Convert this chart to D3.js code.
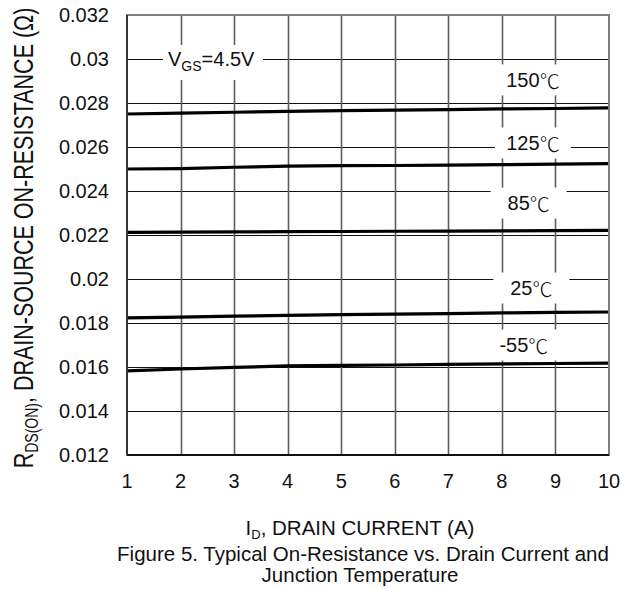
<!DOCTYPE html>
<html>
<head>
<meta charset="utf-8">
<script src="https://cdn.jsdelivr.net/npm/d3@7"></script>
<style>
  body { margin: 0; background: #fff; }
  text { font-family: "Liberation Sans", Arial, sans-serif; fill: #111; }
  .cjk { font-family: "Noto Sans CJK SC", sans-serif; font-weight: 300; }
</style>
</head>
<body>
<div class="chart"></div>
<script>
const width = 624
const height = 589
const margin = ({top: 15, right: 15, bottom: 134, left: 127})

// drain current (A)
const current = [1, 2, 3, 4, 5, 6, 7, 8, 9, 10]
// on-resistance (ohm) per junction temperature
const r150 = [0.0275, 0.02754, 0.02758, 0.02762, 0.02765, 0.02768, 0.0277, 0.02773, 0.02775, 0.02778]
const r125 = [0.0250, 0.02502, 0.02508, 0.02513, 0.02515, 0.02516, 0.02518, 0.0252, 0.02522, 0.02524]
const r85  = [0.02212, 0.02213, 0.02214, 0.02215, 0.02216, 0.02217, 0.02218, 0.02219, 0.0222, 0.02221]
const r25  = [0.01823, 0.01827, 0.01831, 0.01835, 0.01838, 0.0184, 0.01843, 0.01846, 0.01848, 0.0185]
const rm55 = [0.01582, 0.01591, 0.01598, 0.01605, 0.01607, 0.01609, 0.01612, 0.01614, 0.01616, 0.01618]
const seriesTemps = ['150', '125', '85', '25', '-55']
const seriesValues = [r150, r125, r85, r25, rm55]
// label anchor: [current, resistance]
const labelPos = [[8.58, 0.02905], [8.58, 0.02618], [8.5, 0.02345], [8.55, 0.01959], [8.41, 0.0170]]

const xTicks = [1, 2, 3, 4, 5, 6, 7, 8, 9, 10]
const yTicks = [0.012, 0.014, 0.016, 0.018, 0.02, 0.022, 0.024, 0.026, 0.028, 0.03, 0.032]

const svg = d3.select('.chart').append('svg')
    .attr('width', width)
    .attr('height', height)

const x = d3.scaleLinear().domain([1, 10]).range([margin.left, width - margin.right])
const y = d3.scaleLinear().domain([0.012, 0.032]).range([height - margin.bottom, margin.top])

// grid
svg.append('g')
    .selectAll('line')
    .data(yTicks.slice(1, -1))
    .join('line')
    .attr('x1', x(1)).attr('x2', x(10))
    .attr('y1', d => Math.round(y(d)) + 0.5).attr('y2', d => Math.round(y(d)) + 0.5)
    .attr('stroke', '#111').attr('stroke-width', 1)

svg.append('g')
    .selectAll('line')
    .data(xTicks.slice(1, -1))
    .join('line')
    .attr('x1', d => Math.round(x(d)) + 0.5).attr('x2', d => Math.round(x(d)) + 0.5)
    .attr('y1', y(0.032)).attr('y2', y(0.012))
    .attr('stroke', '#5e5e5e').attr('stroke-width', 1.6)

// curves
const line = d3.line()
    .x((d, i) => x(current[i]))
    .y(d => y(d))

svg.append('g')
    .selectAll('path')
    .data(seriesValues)
    .join('path')
    .attr('d', d => line(d))
    .attr('fill', 'none')
    .attr('stroke', '#000')
    .attr('stroke-width', 3.2)

// frame
svg.append('rect')
    .attr('x', x(1)).attr('y', y(0.032))
    .attr('width', x(10) - x(1)).attr('height', y(0.012) - y(0.032))
    .attr('fill', 'none')
    .attr('stroke', '#7f7f7f').attr('stroke-width', 2)
svg.append('line')
    .attr('x1', x(1)).attr('x2', x(10)).attr('y1', y(0.012)).attr('y2', y(0.012))
    .attr('stroke', '#111').attr('stroke-width', 2)
svg.append('line')
    .attr('x1', x(1)).attr('x2', x(1)).attr('y1', y(0.032)).attr('y2', y(0.012))
    .attr('stroke', '#333').attr('stroke-width', 2)

// temperature labels with white boxes
const labels = svg.append('g')
seriesTemps.forEach((temp, i) => {
    const cx = x(labelPos[i][0]), cy = y(labelPos[i][1])
    labels.append('rect')
        .attr('x', cx - 38).attr('y', cy - 15.5)
        .attr('width', 76).attr('height', 31)
        .attr('fill', '#fff')
    const t = labels.append('text')
        .attr('x', cx)
        .attr('y', cy)
        .attr('text-anchor', 'middle')
        .attr('dominant-baseline', 'central')
        .attr('font-size', 20)
    t.append('tspan').text(temp)
    t.append('tspan').attr('class', 'cjk').text('℃')
})

// VGS label
svg.append('rect')
    .attr('x', 163).attr('y', 45)
    .attr('width', 100).attr('height', 35)
    .attr('fill', '#fff')
const vt = svg.append('text')
    .attr('x', 168).attr('y', y(0.03) + 7)
    .attr('font-size', 20)
vt.append('tspan').text('V')
vt.append('tspan').attr('font-size', 14).attr('dy', 5).text('GS')
vt.append('tspan').attr('dy', -5).text('=4.5V')

// tick labels
svg.append('g')
    .selectAll('text')
    .data(xTicks)
    .join('text')
    .attr('x', d => x(d))
    .attr('y', y(0.012) + 33)
    .attr('text-anchor', 'middle')
    .attr('font-size', 20)
    .text(d => d)

svg.append('g')
    .selectAll('text')
    .data(yTicks)
    .join('text')
    .attr('x', x(1) - 18)
    .attr('y', d => y(d) + 7)
    .attr('text-anchor', 'end')
    .attr('font-size', 20)
    .text(d => d)

// axis titles
const xt = svg.append('text')
    .attr('x', 360).attr('y', 535)
    .attr('text-anchor', 'middle')
    .attr('font-size', 20.5)
xt.append('tspan').text('I')
xt.append('tspan').attr('font-size', 13).attr('dy', 4).text('D')
xt.append('tspan').attr('dy', -4).text(', DRAIN CURRENT (A)')

const yt = svg.append('text')
    .attr('transform', 'translate(33, 238) rotate(-90) scale(1, 1.25)')
    .attr('text-anchor', 'middle')
    .attr('font-size', 21.5)
yt.append('tspan').text('R')
yt.append('tspan').attr('font-size', 14).attr('dy', 4).text('DS(ON)')
yt.append('tspan').attr('dy', -4).text(', DRAIN-SOURCE ON-RESISTANCE (Ω)')

// caption
svg.append('text')
    .attr('x', 363).attr('y', 561)
    .attr('text-anchor', 'middle')
    .attr('font-size', 20.5)
    .text('Figure 5. Typical On-Resistance vs. Drain Current and')
svg.append('text')
    .attr('x', 360).attr('y', 582)
    .attr('text-anchor', 'middle')
    .attr('font-size', 20.5)
    .text('Junction Temperature')
</script>
</body>
</html>
